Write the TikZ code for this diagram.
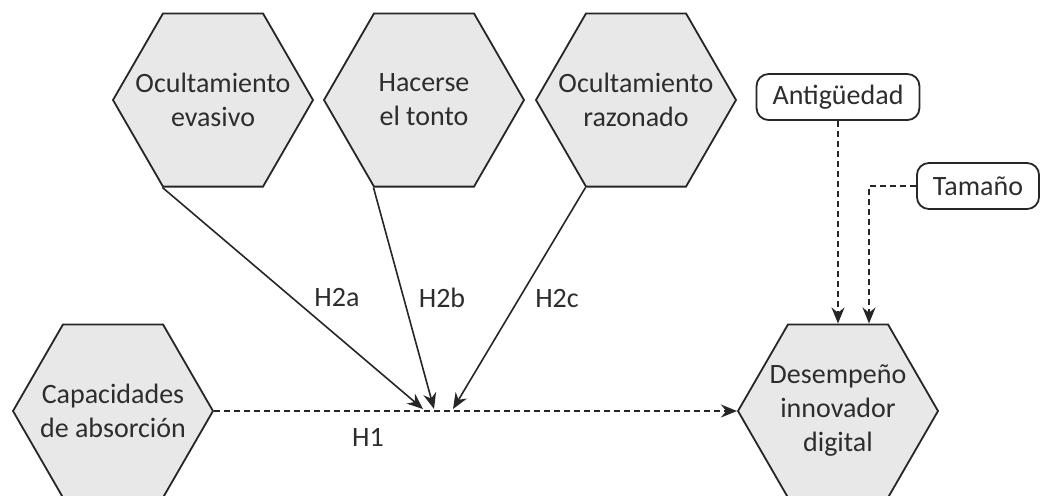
\documentclass[tikz,border=0pt]{standalone}
\usepackage{fontspec}
\setmainfont{Carlito}
\usetikzlibrary{arrows.meta,positioning,calc,shapes.geometric}
\definecolor{hexfill}{RGB}{232,232,232}
\definecolor{txtgray}{RGB}{45,45,45}

\tikzset{
  hexa/.style={regular polygon, regular polygon sides=6, minimum size=100pt, inner sep=0pt,
    draw=black!85, line width=0.9pt, fill=hexfill,
    label={[lbl, align=center]center:#1}},
  ctrlbox/.style={draw=black!85, rounded corners=6pt, line width=0.9pt, minimum height=23pt,
    inner xsep=8pt, font=\fontsize{14}{17}\selectfont, text=txtgray},
  hyp/.style={-{Stealth[length=8pt,width=6.5pt]}, line width=0.8pt, black!85},
  ctl/.style={hyp, dash pattern=on 3pt off 2pt},
  lbl/.style={font=\fontsize{14}{17}\selectfont, text=txtgray}
}

\begin{document}
\begin{tikzpicture}[x=0.5pt,y=-0.5pt]
  \useasboundingbox (0,0) rectangle (1040,495);
  % ---- constructs
  \node[hexa={Ocultamiento\\evasivo}] (oe) at (213,100) {};
  \node[hexa={Hacerse\\el tonto}] (ht) at (424,100) {};
  \node[hexa={Ocultamiento\\razonado}] (orz) at (636,100) {};
  \node[hexa={Capacidades\\de absorción}] (cap) at (113,411) {};
  \node[hexa={Desempeño\\innovador\\digital}] (des) at (838,411) {};
  % ---- controls
  \node[ctrlbox] (ant) at (838,97) {Antigüedad};
  \node[ctrlbox] (tam) at (978,186) {Tamaño};
  % ---- hypotheses
  \draw[ctl] (cap.east) -- (des.west);
  \coordinate (ta) at (423,409);
  \coordinate (tb) at (434,409);
  \coordinate (tc) at (453,409);
  \draw[hyp] (oe.240) -- (ta);
  \draw[hyp] (ht.240) -- (tb);
  \draw[hyp] (orz.240) -- (tc);
  \draw[ctl] (ant.south) -- (ant.south |- des.north);
  \draw[ctl] (tam.west) -| ($(des.north)+(31,0)$);
  % ---- labels
  \node[lbl] (h2a) at (337,298) {H2a};
  \node[lbl] (h2b) at (442,298) {H2b};
  \node[lbl] (h2c) at (557,298) {H2c};
  \node[lbl] (h1) at (368,437) {H1};
\end{tikzpicture}
\end{document}
